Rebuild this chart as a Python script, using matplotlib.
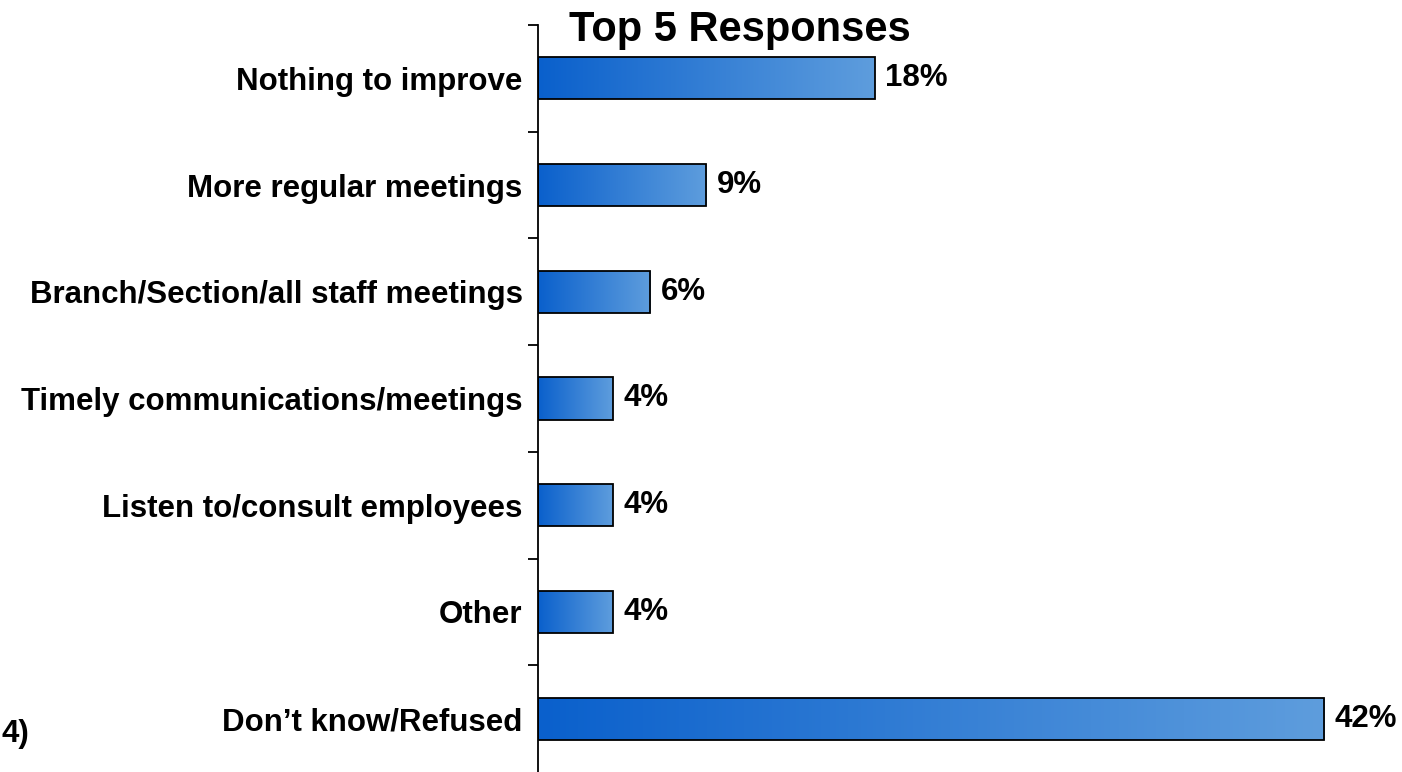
import numpy as np
import matplotlib.pyplot as plt
from matplotlib.colors import LinearSegmentedColormap

categorias = ["Nothing to improve", "More regular meetings", "Branch/Section/all staff meetings",
              "Timely communications/meetings", "Listen to/consult employees", "Other",
              "Don\u2019t know/Refused"]
valores = [18, 9, 6, 4, 4, 4, 42]

plt.rcParams['font.family'] = ['Liberation Sans', 'DejaVu Sans']
plt.rcParams['font.weight'] = 'bold'

fig = plt.figure(figsize=(14.02, 7.72), dpi=100)
ax = fig.add_axes([538 / 1402, 0.0, 1 - 538 / 1402, (772 - 25) / 772])

y = np.arange(len(categorias))
barras = ax.barh(y, valores, height=0.394, color='none', edgecolor='black', linewidth=1.3, zorder=3)

# degradado azul dentro de cada barra
cmap = LinearSegmentedColormap.from_list('azul', ['#0a60cc', '#5e9ddd'])
grad = np.linspace(0, 1, 256).reshape(1, -1)
for b in barras:
    x0, y0 = b.get_x(), b.get_y()
    im = ax.imshow(grad, cmap=cmap, aspect='auto', zorder=2,
                   extent=[x0, x0 + b.get_width(), y0, y0 + b.get_height()])
    im.set_clip_path(b)

for yi, v in zip(y, valores):
    ax.text(v + 0.55, yi, f"{v}%", va='center', ha='left', fontsize=22.5, fontweight='bold')

ax.set_xlim(0, (1402 - 538) / 18.72)
ax.set_ylim(len(categorias) - 0.5, -0.5)

ax.set_yticks(y)
ax.set_yticklabels(categorias, fontsize=22.5, fontweight='bold')
ax.tick_params(axis='y', which='major', length=0, pad=11)
ax.set_yticks(np.arange(-0.5, len(categorias) - 0.5, 1), minor=True)
ax.tick_params(axis='y', which='minor', length=7, width=1.3, direction='out')
ax.set_xticks([])
for lado in ['top', 'right', 'bottom']:
    ax.spines[lado].set_visible(False)
ax.spines['left'].set_linewidth(1.3)

fig.text(740 / 1402, 1 - 30 / 772, "Top 5 Responses", ha='center', va='center',
         fontsize=30, fontweight='bold')
fig.text(1 / 1402, 1 - 734 / 772, "4)", ha='left', va='center', fontsize=22.5, fontweight='bold')

fig.savefig('out.png', dpi=100)
